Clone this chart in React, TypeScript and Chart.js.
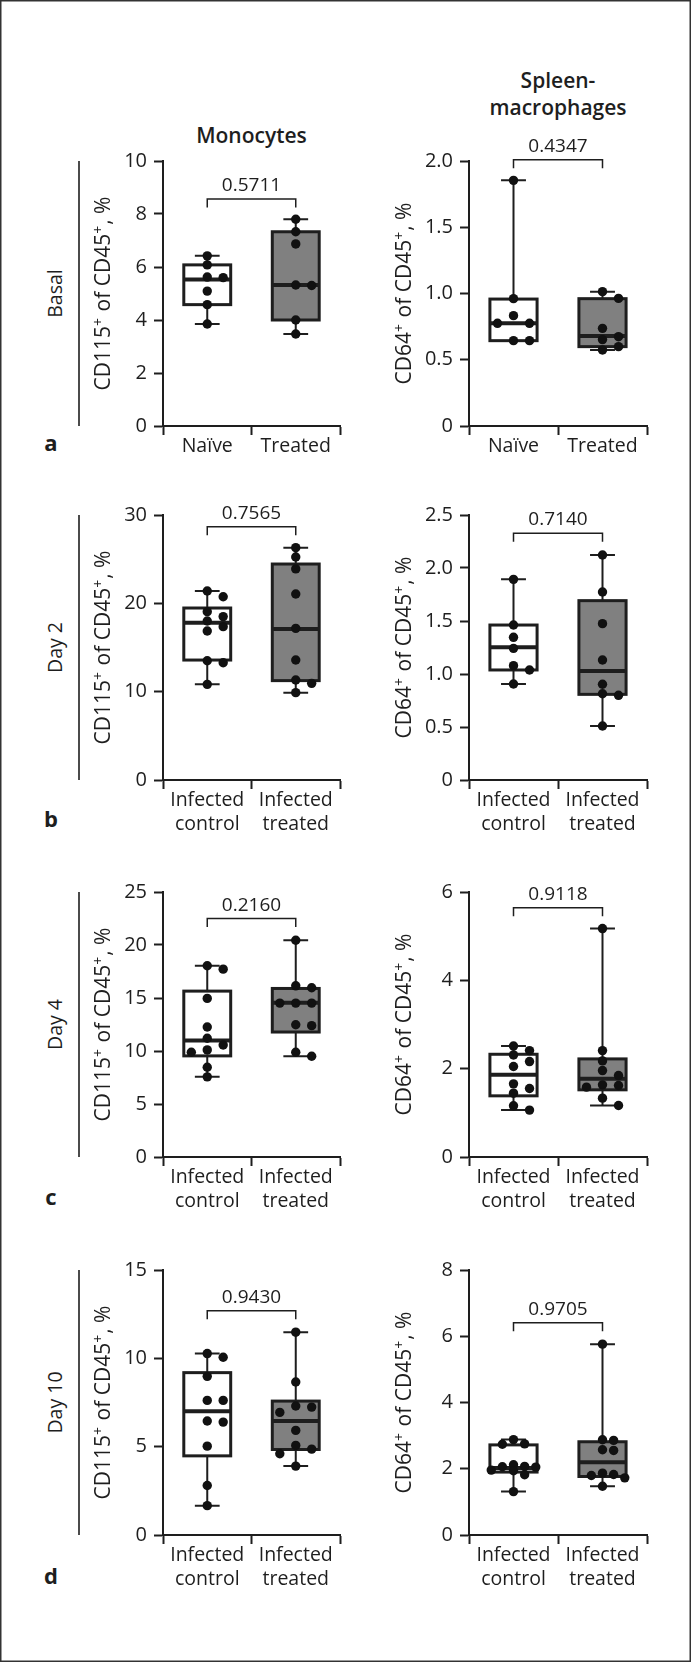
import React, { useEffect, useRef } from 'react';
import { Chart, registerables } from 'chart.js';

Chart.register(...registerables);

// ---------- DATA ----------
const basalCategories: (string | string[])[] = ['Naïve', 'Treated'];
const infectedCategories: (string | string[])[] = [['Infected', 'control'], ['Infected', 'treated']];

const rowNames = ['Basal', 'Day 2', 'Day 4', 'Day 10'];
const panelLetters = ['a', 'b', 'c', 'd'];
const monoTitle = ['Monocytes'];
const macroTitle = ['Spleen-', 'macrophages'];
const monoYTitle = 'CD115⁺ of CD45⁺, %';
const macroYTitle = 'CD64⁺ of CD45⁺, %';

const monoYMax = [10, 30, 25, 15];
const monoYStep = [2, 10, 5, 5];
const macroYMax = [2.0, 2.5, 6, 8];
const macroYStep = [0.5, 0.5, 2, 2];

const monoPValues = ['0.5711', '0.7565', '0.2160', '0.9430'];
const macroPValues = ['0.4347', '0.7140', '0.9118', '0.9705'];
const monoBracketLevel = [8.57, 28.68, 22.49, 12.69];
const macroBracketLevel = [2.01, 2.327, 5.646, 6.41];

// individual points (group 1 = control/naive, group 2 = treated)
const basalMonoNaive = [6.42, 6.08, 5.62, 5.6, 5.09, 4.58, 3.85];
const basalMonoTreated = [7.8, 7.33, 6.87, 5.32, 5.3, 4.0, 3.47];
const basalMacroNaive = [1.854, 0.961, 0.833, 0.775, 0.775, 0.644, 0.644];
const basalMacroTreated = [1.014, 0.963, 0.737, 0.674, 0.652, 0.599, 0.574];

const day2MonoControl = [21.4, 20.75, 19.06, 18.5, 18.0, 17.36, 16.87, 13.5, 13.28, 10.83];
const day2MonoTreated = [26.3, 25.25, 23.9, 21.06, 17.17, 13.58, 11.32, 10.94, 9.89];
const day2MacroControl = [1.893, 1.462, 1.346, 1.242, 1.079, 1.038, 0.906];
const day2MacroTreated = [2.123, 1.774, 1.475, 1.132, 0.903, 0.814, 0.799, 0.509];

const day4MonoControl = [18.04, 17.72, 14.96, 12.26, 11.2, 10.57, 10.1, 9.88, 8.47, 7.56];
const day4MonoTreated = [20.45, 16.15, 15.97, 14.52, 14.52, 14.52, 12.48, 12.39, 9.88, 9.5];
const day4MacroControl = [2.514, 2.409, 2.311, 2.161, 2.048, 1.656, 1.551, 1.445, 1.159, 1.062];
const day4MacroTreated = [5.172, 2.409, 2.176, 1.957, 1.844, 1.634, 1.619, 1.581, 1.333, 1.167];

const day10MonoControl = [10.27, 10.06, 8.98, 7.62, 7.62, 6.45, 6.39, 5.03, 2.8, 1.66];
const day10MonoTreated = [11.48, 8.66, 7.3, 7.24, 6.94, 5.92, 5.07, 4.86, 4.6, 3.9];
const day10MacroControl = [2.88, 2.75, 2.74, 2.12, 2.07, 2.06, 2.05, 1.96, 1.94, 1.82, 1.31];
const day10MacroTreated = [5.762, 2.876, 2.856, 2.573, 2.553, 1.867, 1.826, 1.796, 1.726, 1.473];

// box statistics: [min, q1, median, q3, max]
const basalMonoNaiveBox = [3.85, 4.58, 5.53, 6.08, 6.42];
const basalMonoTreatedBox = [3.47, 4.0, 5.32, 7.33, 7.8];
const basalMacroNaiveBox = [0.644, 0.644, 0.775, 0.958, 1.854];
const basalMacroTreatedBox = [0.574, 0.599, 0.679, 0.961, 1.014];

const day2MonoControlBox = [10.83, 13.58, 17.8, 19.47, 21.4];
const day2MonoTreatedBox = [9.89, 11.25, 17.1, 24.45, 26.3];
const day2MacroControlBox = [0.906, 1.038, 1.252, 1.462, 1.893];
const day2MacroTreatedBox = [0.509, 0.808, 1.028, 1.692, 2.123];

const day4MonoControlBox = [7.56, 9.54, 10.98, 15.65, 18.04];
const day4MonoTreatedBox = [9.5, 11.79, 14.55, 15.9, 20.45];
const day4MacroControlBox = [1.062, 1.385, 1.86, 2.326, 2.514];
const day4MacroTreatedBox = [1.167, 1.521, 1.769, 2.221, 5.172];

const day10MonoControlBox = [1.66, 4.48, 7.0, 9.19, 10.27];
const day10MonoTreatedBox = [3.9, 4.84, 6.45, 7.58, 11.48];
const day10MacroControlBox = [1.31, 1.9, 2.02, 2.72, 2.88];
const day10MacroTreatedBox = [1.473, 1.766, 2.2, 2.815, 5.762];

// ---------- STYLE / LAYOUT ----------
const INK = '#1e1e1e';
const FONT = '"Open Sans", "DejaVu Sans", sans-serif';
const FILLS = ['#ffffff', '#808080'];
const ROW_TOPS = [161, 515, 892, 1270];
const PLOT_H = 265;
const PAD_TOP = 40;
const X_AXIS_H = 60;
const Y_AXIS_W = 78;
const CANVAS_H = PAD_TOP + PLOT_H + X_AXIS_H;
const TITLE_SIZE = 21;
const SUP_SIZE = 14;
const TICK_SIZE = 20;
const XLABEL_SIZE = 19.5;
const COLS = [
  { left: 85, width: 261, titleBaseline: 25 },
  { left: 391, width: 262, titleBaseline: 20 },
];
const BOX_HALF = 0.265;
const CAP_HALF = 0.14;

function swarmLanes(values: number[], thr: number): number[] {
  const order = values.map((_, i) => i).sort((a, b) => values[b] - values[a]);
  const lanes = new Array(values.length).fill(0);
  const placed: { v: number; lane: number }[] = [];
  const cands = [0, 1, -1, 2, -2];
  for (const i of order) {
    const v = values[i];
    let best = 0;
    let bestD = -1;
    for (const c of cands) {
      let d = Infinity;
      for (const p of placed) if (p.lane === c) d = Math.min(d, Math.abs(p.v - v));
      if (d >= thr) {
        best = c;
        break;
      }
      if (d > bestD) {
        bestD = d;
        best = c;
      }
    }
    lanes[i] = best;
    placed.push({ v, lane: best });
  }
  return lanes;
}

// draws a rotated axis title; "⁺" is rendered as a raised, smaller "+"
function drawAxisTitle(ctx: CanvasRenderingContext2D, text: string, bx: number, cy: number) {
  const parts = text.split('⁺');
  const main = `${TITLE_SIZE}px ${FONT}`;
  const sup = `${SUP_SIZE}px ${FONT}`;
  ctx.save();
  ctx.font = main;
  const segs: { t: string; f: string; dy: number; w: number }[] = [];
  parts.forEach((t, i) => {
    ctx.font = main;
    segs.push({ t, f: main, dy: 0, w: ctx.measureText(t).width });
    if (i < parts.length - 1) {
      ctx.font = sup;
      segs.push({ t: '+', f: sup, dy: -7, w: ctx.measureText('+').width + 1 });
    }
  });
  const total = segs.reduce((s, g) => s + g.w, 0);
  ctx.translate(bx, cy);
  ctx.rotate(-Math.PI / 2);
  ctx.fillStyle = INK;
  ctx.textAlign = 'left';
  ctx.textBaseline = 'alphabetic';
  let xPos = -total / 2;
  for (const g of segs) {
    ctx.font = g.f;
    ctx.fillText(g.t, xPos, g.dy);
    xPos += g.w;
  }
  ctx.restore();
}

type PanelProps = {
  col: number;
  row: number;
  categories: (string | string[])[];
  points: number[][];
  boxes: number[][];
  yMax: number;
  yStep: number;
  yTitle: string;
  pValue: string;
  bracket: number;
};

function BoxPanel(p: PanelProps) {
  const ref = useRef<HTMLCanvasElement>(null);
  const colCfg = COLS[p.col];
  useEffect(() => {
    const canvas = ref.current;
    if (!canvas) return;
    const thr = p.yMax * (8.5 / PLOT_H);
    const datasets = p.points.map((pts, gi) => {
      const lanes = swarmLanes(pts, thr);
      const maxLane = Math.max(...lanes.map((l) => Math.abs(l)));
      const sp = maxLane >= 2 ? 0.125 : 0.18;
      return {
        type: 'scatter' as const,
        data: pts.map((v, k) => ({ x: gi + 0.5 + lanes[k] * sp, y: v })),
        pointRadius: 4.7,
        pointBackgroundColor: '#111111',
        pointBorderWidth: 0,
        showLine: false,
        clip: false as any,
      };
    });

    const boxPlugin = {
      id: 'boxes' + p.row + p.col,
      beforeDatasetsDraw(chart: any) {
        const { ctx, scales } = chart;
        const x = scales.x;
        const y = scales.y;
        p.boxes.forEach((st, i) => {
          const [mn, q1, med, q3, mx] = st;
          const cx = i + 0.5;
          const xc = x.getPixelForValue(cx);
          const xl = x.getPixelForValue(cx - BOX_HALF);
          const xr = x.getPixelForValue(cx + BOX_HALF);
          const cl = x.getPixelForValue(cx - CAP_HALF);
          const cr = x.getPixelForValue(cx + CAP_HALF);
          ctx.save();
          ctx.strokeStyle = INK;
          ctx.lineWidth = 2;
          ctx.beginPath();
          ctx.moveTo(xc, y.getPixelForValue(mx));
          ctx.lineTo(xc, y.getPixelForValue(q3));
          ctx.moveTo(xc, y.getPixelForValue(q1));
          ctx.lineTo(xc, y.getPixelForValue(mn));
          ctx.moveTo(cl, y.getPixelForValue(mx));
          ctx.lineTo(cr, y.getPixelForValue(mx));
          ctx.moveTo(cl, y.getPixelForValue(mn));
          ctx.lineTo(cr, y.getPixelForValue(mn));
          ctx.stroke();
          const yt = y.getPixelForValue(q3);
          const yb = y.getPixelForValue(q1);
          ctx.fillStyle = FILLS[i];
          ctx.fillRect(xl, yt, xr - xl, yb - yt);
          ctx.lineWidth = 3;
          ctx.strokeRect(xl, yt, xr - xl, yb - yt);
          ctx.lineWidth = 4;
          ctx.beginPath();
          ctx.moveTo(xl, y.getPixelForValue(med));
          ctx.lineTo(xr, y.getPixelForValue(med));
          ctx.stroke();
          ctx.restore();
        });
      },
      afterDraw(chart: any) {
        const { ctx, scales, chartArea } = chart;
        const x = scales.x;
        const y = scales.y;
        const x1 = x.getPixelForValue(0.5);
        const x2 = x.getPixelForValue(1.5);
        const yb = y.getPixelForValue(p.bracket);
        ctx.save();
        ctx.strokeStyle = INK;
        ctx.lineWidth = 1.5;
        ctx.beginPath();
        ctx.moveTo(x1, yb + 8.5);
        ctx.lineTo(x1, yb);
        ctx.lineTo(x2, yb);
        ctx.lineTo(x2, yb + 8.5);
        ctx.stroke();
        ctx.fillStyle = INK;
        ctx.font = `19px ${FONT}`;
        ctx.textAlign = 'center';
        ctx.textBaseline = 'alphabetic';
        ctx.fillText(p.pValue, x.getPixelForValue(1), yb - 8);
        ctx.restore();
        drawAxisTitle(
          ctx,
          p.yTitle,
          y.left + colCfg.titleBaseline,
          (chartArea.top + chartArea.bottom) / 2
        );
      },
    };

    const cats = p.categories;
    const step = p.yStep;
    const chart = new Chart(canvas, {
      type: 'scatter',
      data: { datasets: datasets as any },
      options: {
        responsive: false,
        animation: false,
        events: [],
        layout: { padding: { top: PAD_TOP, right: 6, bottom: 0, left: 0 } },
        plugins: { legend: { display: false }, tooltip: { enabled: false } },
        scales: {
          x: {
            type: 'linear',
            min: 0,
            max: 2,
            afterBuildTicks: (s: any) => {
              s.ticks = [0, 0.5, 1, 1.5, 2].map((value) => ({ value }));
            },
            afterFit: (s: any) => {
              s.height = X_AXIS_H;
            },
            grid: {
              drawOnChartArea: false,
              drawTicks: true,
              tickLength: 9,
              tickWidth: 2,
              tickColor: (c: any) =>
                c.tick && Number.isInteger(c.tick.value) ? INK : 'rgba(0,0,0,0)',
            },
            border: { display: true, color: INK, width: 2 },
            ticks: {
              padding: 0,
              autoSkip: false,
              maxRotation: 0,
              minRotation: 0,
              color: INK,
              font: { family: FONT, size: XLABEL_SIZE, lineHeight: 1.2 },
              callback: (v: any) => (v === 0.5 ? cats[0] : v === 1.5 ? cats[1] : ''),
            },
          },
          y: {
            type: 'linear',
            min: 0,
            max: p.yMax,
            afterFit: (s: any) => {
              s.width = Y_AXIS_W;
            },
            grid: { drawOnChartArea: false, tickLength: 9, tickWidth: 2, tickColor: INK },
            border: { display: true, color: INK, width: 2 },
            ticks: {
              stepSize: step,
              padding: 7,
              color: INK,
              font: { family: FONT, size: TICK_SIZE },
              callback: (v: any) => (v === 0 ? '0' : step < 1 ? Number(v).toFixed(1) : String(v)),
            },
            title: { display: false },
          },
        },
      } as any,
      plugins: [boxPlugin],
    });
    return () => chart.destroy();
  }, []);

  return (
    <canvas
      ref={ref}
      width={colCfg.width}
      height={CANVAS_H}
      style={{
        position: 'absolute',
        left: colCfg.left,
        top: ROW_TOPS[p.row] - PAD_TOP,
        width: colCfg.width,
        height: CANVAS_H,
      }}
    />
  );
}

const LETTER_BASELINES = [451, 827, 1205, 1584];

export default function App() {
  useEffect(() => {
    document.body.style.margin = '0';
  }, []);

  const monoPoints = [
    [basalMonoNaive, basalMonoTreated],
    [day2MonoControl, day2MonoTreated],
    [day4MonoControl, day4MonoTreated],
    [day10MonoControl, day10MonoTreated],
  ];
  const monoBoxes = [
    [basalMonoNaiveBox, basalMonoTreatedBox],
    [day2MonoControlBox, day2MonoTreatedBox],
    [day4MonoControlBox, day4MonoTreatedBox],
    [day10MonoControlBox, day10MonoTreatedBox],
  ];
  const macroPoints = [
    [basalMacroNaive, basalMacroTreated],
    [day2MacroControl, day2MacroTreated],
    [day4MacroControl, day4MacroTreated],
    [day10MacroControl, day10MacroTreated],
  ];
  const macroBoxes = [
    [basalMacroNaiveBox, basalMacroTreatedBox],
    [day2MacroControlBox, day2MacroTreatedBox],
    [day4MacroControlBox, day4MacroTreatedBox],
    [day10MacroControlBox, day10MacroTreatedBox],
  ];

  return (
    <div
      style={{
        position: 'absolute',
        left: 0,
        top: 0,
        width: 692,
        height: 1663,
        background: '#ffffff',
        overflow: 'hidden',
      }}
    >
      <svg
        width={692}
        height={1663}
        style={{ position: 'absolute', left: 0, top: 0 }}
        fontFamily={FONT}
      >
        <rect x={0.75} y={0.75} width={689.5} height={1660.5} fill="none" stroke="#333" strokeWidth={1.5} />
        <text x={251.5} y={143} textAnchor="middle" fontSize={21} fontWeight={600} fill={INK}>
          {monoTitle[0]}
        </text>
        {macroTitle.map((t, i) => (
          <text key={t} x={558} y={88.3 + i * 26.7} textAnchor="middle" fontSize={21} fontWeight={600} fill={INK}>
            {t}
          </text>
        ))}
        {rowNames.map((name, r) => (
          <g key={name}>
            <text
              transform={`translate(62, ${ROW_TOPS[r] + PLOT_H / 2}) rotate(-90)`}
              textAnchor="middle"
              fontSize={19.5}
              fill={INK}
            >
              {name}
            </text>
            <line x1={79} x2={79} y1={ROW_TOPS[r]} y2={ROW_TOPS[r] + PLOT_H} stroke={INK} strokeWidth={1.6} />
            <text x={51} y={LETTER_BASELINES[r]} textAnchor="middle" fontSize={22} fontWeight={700} fill={INK}>
              {panelLetters[r]}
            </text>
          </g>
        ))}
      </svg>
      {rowNames.map((_, r) => (
        <React.Fragment key={r}>
          <BoxPanel
            col={0}
            row={r}
            categories={r === 0 ? basalCategories : infectedCategories}
            points={monoPoints[r]}
            boxes={monoBoxes[r]}
            yMax={monoYMax[r]}
            yStep={monoYStep[r]}
            yTitle={monoYTitle}
            pValue={monoPValues[r]}
            bracket={monoBracketLevel[r]}
          />
          <BoxPanel
            col={1}
            row={r}
            categories={r === 0 ? basalCategories : infectedCategories}
            points={macroPoints[r]}
            boxes={macroBoxes[r]}
            yMax={macroYMax[r]}
            yStep={macroYStep[r]}
            yTitle={macroYTitle}
            pValue={macroPValues[r]}
            bracket={macroBracketLevel[r]}
          />
        </React.Fragment>
      ))}
    </div>
  );
}
